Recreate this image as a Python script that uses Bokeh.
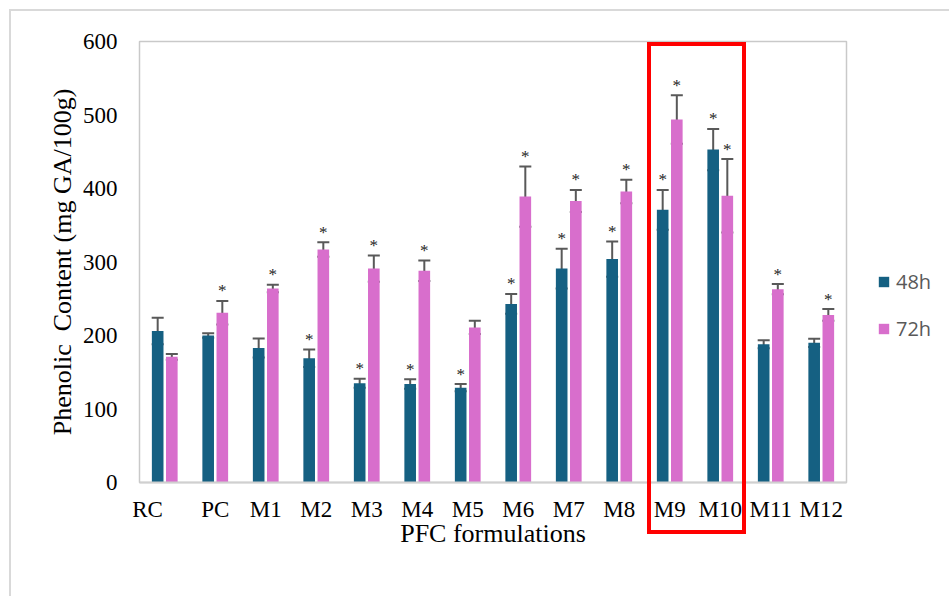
from bokeh.plotting import figure
from bokeh.models import (ColumnDataSource, Range1d, Whisker, TeeHead, Legend,
                          LegendItem, FixedTicker, InlineStyleSheet)
from bokeh.transform import dodge
from bokeh.core.properties import value
from bokeh.embed import file_html
from bokeh.resources import INLINE

# Total phenolic content of the formulations after 48 h and 72 h of fermentation
categories = ["RC", "PC", "M1", "M2", "M3", "M4", "M5", "M6", "M7", "M8",
              "M9", "M10", "M11", "M12"]
mean_48h = [206, 200, 183, 169, 135, 134, 129, 243, 291, 304, 371, 453, 188, 190]
sd_48h = [18, 3, 13, 12, 6, 6.5, 5, 13.5, 27, 24, 27, 28, 5.5, 5.5]
mean_72h = [171, 231, 264, 317, 291, 288, 211, 389, 383, 396, 494, 390, 263, 228]
sd_72h = [4, 16, 5, 10, 18, 14, 9, 41, 15, 16, 33, 50, 7, 8]
# significance markers (1 = asterisk above the bar)
sig_48h = [0, 0, 0, 1, 1, 1, 1, 1, 1, 1, 1, 1, 0, 0]
sig_72h = [0, 1, 1, 1, 1, 1, 0, 1, 1, 1, 1, 1, 1, 1]
y_ticks = [0, 100, 200, 300, 400, 500, 600]
highlighted = ["M9", "M10"]

C48 = "#156082"
C72 = "#D86ECC"
ERR = "#595959"
SERIF = "Liberation Serif"
NBSP = "\u00a0"

# canvas and frame geometry (px)
W, H = 949, 596
B_LEFT, B_RIGHT, B_TOP, B_BOTTOM = 139, 103, 41, 114
FRAME_W = W - B_LEFT - B_RIGHT
FRAME_H = H - B_TOP - B_BOTTOM

n = len(categories)
xc = [i + 0.5 for i in range(n)]

src = ColumnDataSource(dict(
    x=xc,
    m48=mean_48h, m72=mean_72h,
    up48=[m + s for m, s in zip(mean_48h, sd_48h)],
    lo48=[m - s for m, s in zip(mean_48h, sd_48h)],
    up72=[m + s for m, s in zip(mean_72h, sd_72h)],
    lo72=[m - s for m, s in zip(mean_72h, sd_72h)],
    s48=["*" if f else "" for f in sig_48h],
    s72=["*" if f else "" for f in sig_72h],
))

# highlight box round the best formulations and a light chart border, as overlays
i0 = categories.index(highlighted[0])
i1 = categories.index(highlighted[-1])
cat_px = FRAME_W / n
hl_left = B_LEFT + (i0 + 0.10) * cat_px - 2
hl_right = B_LEFT + (i1 + 0.98) * cat_px + 2
css = f"""
:host {{ position: relative; }}
:host::after {{
  content: ""; position: absolute; pointer-events: none; z-index: 20;
  box-sizing: border-box; border: 4px solid #FF0000;
  left: {hl_left:.1f}px; top: {B_TOP + 1}px;
  width: {hl_right - hl_left:.1f}px; height: {FRAME_H + 51}px;
}}
:host::before {{
  content: ""; position: absolute; pointer-events: none; z-index: 20;
  box-sizing: border-box; border-top: 2px solid #D9D9D9; border-left: 2px solid #D9D9D9;
  left: 9px; top: 9px; width: {W - 9}px; height: {H - 9}px;
}}
"""

p = figure(frame_width=FRAME_W, frame_height=FRAME_H,
           x_range=Range1d(0, n), y_range=Range1d(0, 600),
           output_backend="svg", toolbar_location=None,
           min_border_left=B_LEFT, min_border_right=B_RIGHT,
           min_border_top=B_TOP, min_border_bottom=B_BOTTOM)
p.stylesheets = [InlineStyleSheet(css=css)]
p.background_fill_color = "white"
p.border_fill_color = "white"
p.outline_line_color = "#C9C9C9"
p.outline_line_width = 1.5
p.grid.visible = False

OFF = 0.14
BW = 0.23
r48 = p.vbar(x=dodge("x", -OFF), top="m48", width=BW, source=src,
             fill_color=C48, line_color=None)
r72 = p.vbar(x=dodge("x", OFF), top="m72", width=BW, source=src,
             fill_color=C72, line_color=None)

for off, up, lo in ((-OFF, "up48", "lo48"), (OFF, "up72", "lo72")):
    w = Whisker(base=dodge("x", off), upper=up, lower=lo, source=src,
                line_color=ERR, line_width=2,
                upper_head=TeeHead(size=12, line_color=ERR, line_width=2),
                lower_head=TeeHead(size=12, line_color=ERR, line_width=2))
    p.add_layout(w)

for off, up, txt in ((-OFF, "up48", "s48"), (OFF, "up72", "s72")):
    p.text(x=dodge("x", off), y=up, text=txt, source=src,
           text_font=value(SERIF), text_font_size="17px", text_color="#262626",
           text_align="center", text_baseline="middle", y_offset=-10)

# axes
p.yaxis.ticker = FixedTicker(ticks=y_ticks)
p.yaxis.axis_line_color = None
p.yaxis.major_tick_line_color = None
p.yaxis.minor_tick_line_color = None
p.yaxis.major_label_standoff = 16
p.yaxis.major_label_text_font = SERIF
p.yaxis.major_label_text_font_size = "23px"
p.yaxis.major_label_text_color = "black"
p.yaxis.axis_label = "Phenolic" + NBSP + " Content (mg GA/100g)"
p.yaxis.axis_label_text_font = SERIF
p.yaxis.axis_label_text_font_size = "26px"
p.yaxis.axis_label_text_font_style = "normal"
p.yaxis.axis_label_text_color = "black"
p.yaxis.axis_label_standoff = 3

# category labels at the group centres; the first one sits left of its group
x_labels = {x: c for x, c in zip(xc, categories)}
x_labels[xc[0]] = categories[0] + NBSP * 6
p.xaxis.ticker = FixedTicker(ticks=xc)
p.xaxis.major_label_overrides = x_labels
p.xaxis.axis_line_color = "#D0D0D0"
p.xaxis.axis_line_width = 2
p.xaxis.major_tick_line_color = None
p.xaxis.minor_tick_line_color = None
p.xaxis.major_label_standoff = 8
p.xaxis.major_label_text_font = SERIF
p.xaxis.major_label_text_font_size = "23px"
p.xaxis.major_label_text_color = "black"
p.xaxis.axis_label = "PFC formulations"
p.xaxis.axis_label_text_font = SERIF
p.xaxis.axis_label_text_font_size = "26px"
p.xaxis.axis_label_text_font_style = "normal"
p.xaxis.axis_label_text_color = "black"
p.xaxis.axis_label_standoff = -6

legend = Legend(items=[LegendItem(label="48h", renderers=[r48]),
                       LegendItem(label="72h", renderers=[r72])],
                location=(31, 140), glyph_width=13, glyph_height=13,
                label_standoff=6, label_height=25, spacing=20, padding=0,
                margin=0, border_line_color=None, background_fill_alpha=0,
                label_text_font="Open Sans", label_text_font_size="20px",
                label_text_color="#595959")
p.add_layout(legend, "right")

open("out.html", "w").write(file_html(p, INLINE))
